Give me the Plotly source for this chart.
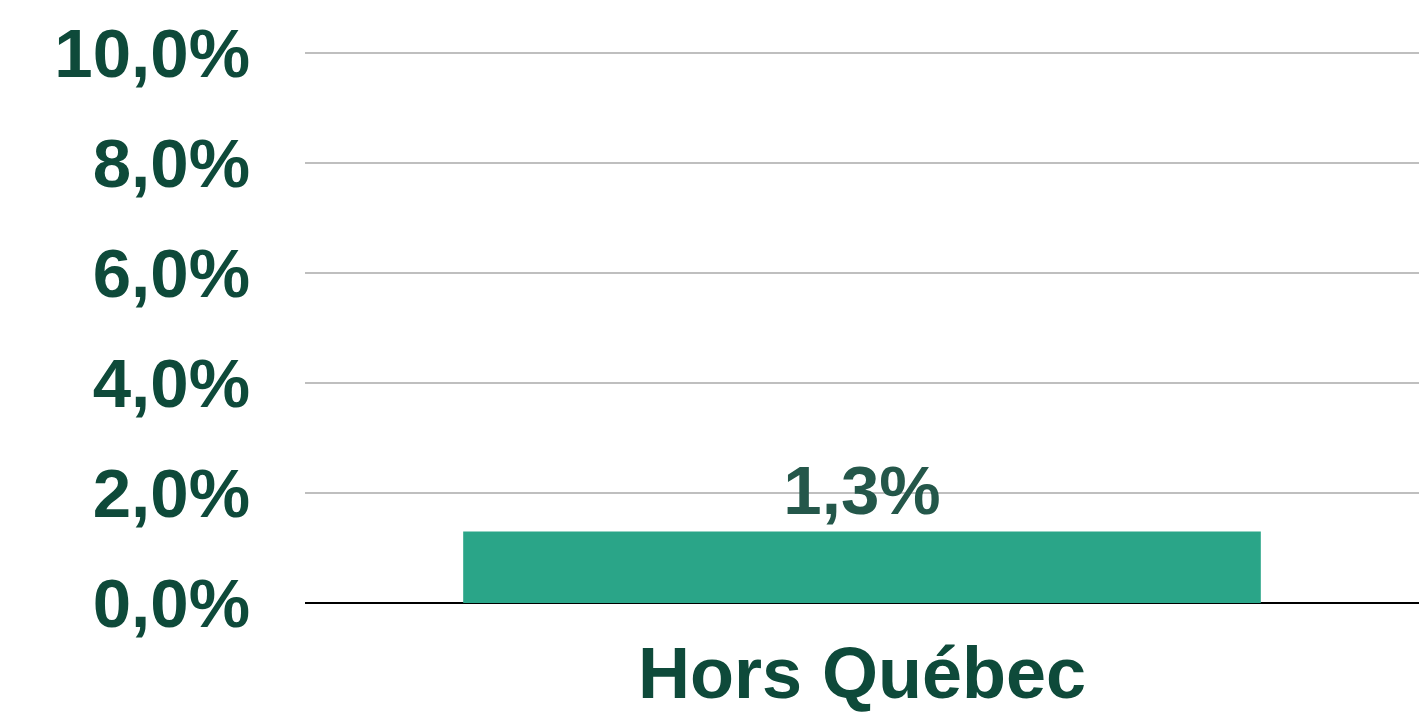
import plotly.graph_objects as go

categories = ["Hors Québec"]
values = [1.3]
y_ticks = [0, 2, 4, 6, 8, 10]
y_tick_labels = ["0,0%", "2,0%", "4,0%", "6,0%", "8,0%", "10,0%"]

DARK_GREEN = "#0e4a3a"
LABEL_GREEN = "#24574a"
BAR_COLOR = "#2aa588"
FONT = "Liberation Sans, Arial, sans-serif"

fig = go.Figure()
fig.add_trace(go.Bar(
    x=categories,
    y=values,
    marker=dict(color=BAR_COLOR, line=dict(width=0)),
    texttemplate="%{y:.1f}%",
    textposition="outside",
    textfont=dict(family=FONT, size=69, color=LABEL_GREEN, weight="bold"),
    cliponaxis=False,
))

fig.update_layout(
    width=1419,
    height=717,
    separators=", ",
    plot_bgcolor="white",
    paper_bgcolor="white",
    showlegend=False,
    bargap=0.284,
    margin=dict(l=305, r=0, t=52, b=114),
    font=dict(family=FONT, color=DARK_GREEN),
)
fig.update_yaxes(
    range=[0, 10.02],
    tickvals=y_ticks,
    ticktext=y_tick_labels,
    tickfont=dict(family=FONT, size=69, color=DARK_GREEN, weight="bold"),
    ticklabelstandoff=54,
    showgrid=True,
    gridcolor="#bfbfbf",
    gridwidth=2,
    zeroline=True,
    zerolinecolor="black",
    zerolinewidth=2,
    showline=False,
)
fig.update_xaxes(
    tickfont=dict(family=FONT, size=72, color=DARK_GREEN, weight="bold"),
    ticklabelstandoff=22,
    showline=False,
    showgrid=False,
)

# the page body has a default margin; drop it so the figure sits at 0,0
fig.write_html(
    "out.html",
    config={"displayModeBar": False},
    post_script="document.body.style.margin='0';",
)
